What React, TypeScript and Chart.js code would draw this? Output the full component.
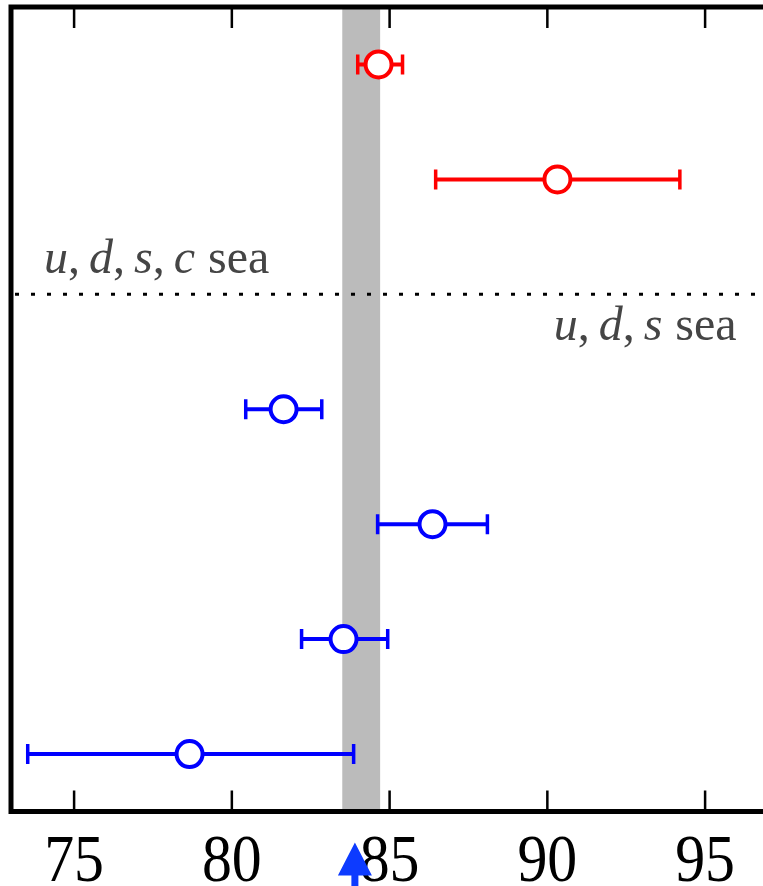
import { useEffect, useRef } from 'react';
import { Chart, registerables } from 'chart.js';

Chart.register(...registerables);

// Axis range and ticks
const X_MIN = 73;
const X_MAX = 97;
const X_TICKS = [75, 80, 85, 90, 95];
const Y_MIN = 0;
const Y_MAX = 7;

// Shaded reference band and marker
const BAND = [83.5, 84.7];
const ARROW_X = 83.9;
const DIVIDER_Y = 4.5;

// u,d,s,c sea results (red)
const RED_Y = [6.5, 5.5];
const RED_MID = [84.65, 90.32];
const RED_LO = [83.99, 86.46];
const RED_HI = [85.41, 94.2];

// u,d,s sea results (blue)
const BLUE_Y = [3.5, 2.5, 1.5, 0.5];
const BLUE_MID = [81.64, 86.36, 83.54, 78.66];
const BLUE_LO = [80.44, 84.62, 82.21, 73.53];
const BLUE_HI = [82.85, 88.1, 84.94, 83.86];

const RED = '#ff0000';
const BLUE = '#0000ff';
const ARROW_BLUE = '#0d3bff';
const LABEL_GREY = '#454545';
const SERIF = '"Liberation Serif"';

type Part = { t: string; it?: boolean; gap?: number };

const LABEL_TOP: Part[] = [
  { t: 'u', it: true }, { t: ',' }, { t: '', gap: 9 },
  { t: 'd', it: true }, { t: ',' }, { t: '', gap: 9 },
  { t: 's', it: true }, { t: ',' }, { t: '', gap: 9 },
  { t: 'c', it: true }, { t: '', gap: 13 },
  { t: 'sea' },
];
const LABEL_BOTTOM: Part[] = [
  { t: 'u', it: true }, { t: ',' }, { t: '', gap: 9 },
  { t: 'd', it: true }, { t: ',' }, { t: '', gap: 9 },
  { t: 's', it: true }, { t: '', gap: 13 },
  { t: 'sea' },
];

function pt(xs: number[], ys: number[], lo: number[], hi: number[]) {
  return xs.map((x, i) => ({ x, y: ys[i], lo: lo[i], hi: hi[i] }));
}

function drawParts(ctx: CanvasRenderingContext2D, parts: Part[], x: number, y: number, size: number, align: 'left' | 'right') {
  const fontFor = (p: Part) => `${p.it ? 'italic ' : ''}${size}px ${SERIF}`;
  const widths = parts.map((p) => {
    if (p.gap) return p.gap;
    ctx.font = fontFor(p);
    return ctx.measureText(p.t).width;
  });
  const total = widths.reduce((a, b) => a + b, 0);
  ctx.save();
  ctx.textBaseline = 'alphabetic';
  ctx.textAlign = 'left';
  ctx.fillStyle = LABEL_GREY;
  let cx = align === 'left' ? x : x - total;
  parts.forEach((p, i) => {
    if (!p.gap) {
      ctx.font = fontFor(p);
      ctx.fillText(p.t, cx, y);
    }
    cx += widths[i];
  });
  ctx.restore();
}

const decor = {
  id: 'decor',
  beforeDatasetsDraw(chart: any) {
    const { ctx, chartArea: a, scales } = chart;
    const xs = scales.x;
    const ys = scales.y;
    ctx.save();
    // shaded band
    const b0 = xs.getPixelForValue(BAND[0]);
    const b1 = xs.getPixelForValue(BAND[1]);
    ctx.fillStyle = '#bbbbbb';
    ctx.fillRect(b0, a.top, b1 - b0, a.bottom - a.top);
    // dotted divider
    const yd = ys.getPixelForValue(DIVIDER_Y);
    ctx.strokeStyle = '#000';
    ctx.lineWidth = 3;
    ctx.setLineDash([4, 12]);
    ctx.beginPath();
    ctx.moveTo(a.left + 4, yd);
    ctx.lineTo(a.right, yd);
    ctx.stroke();
    ctx.setLineDash([]);
    // error bars
    chart.data.datasets.forEach((ds: any) => {
      ctx.strokeStyle = ds.borderColor;
      ds.data.forEach((d: any) => {
        const y = ys.getPixelForValue(d.y);
        const l = xs.getPixelForValue(d.lo);
        const h = xs.getPixelForValue(d.hi);
        ctx.lineWidth = 4;
        ctx.beginPath();
        ctx.moveTo(l, y);
        ctx.lineTo(h, y);
        ctx.stroke();
        ctx.lineWidth = 3.5;
        ctx.beginPath();
        ctx.moveTo(l, y - 10);
        ctx.lineTo(l, y + 10);
        ctx.moveTo(h, y - 10);
        ctx.lineTo(h, y + 10);
        ctx.stroke();
      });
    });
    ctx.restore();
  },
  afterDraw(chart: any) {
    const { ctx, chartArea: a, scales } = chart;
    const xs = scales.x;
    const ys = scales.y;
    ctx.save();
    // frame
    ctx.strokeStyle = '#000';
    ctx.lineWidth = 5;
    ctx.strokeRect(a.left, a.top, a.right - a.left, a.bottom - a.top);
    // inward ticks, top and bottom
    ctx.lineWidth = 2.5;
    ctx.beginPath();
    X_TICKS.forEach((v) => {
      const x = xs.getPixelForValue(v);
      ctx.moveTo(x, a.top);
      ctx.lineTo(x, a.top + 21);
      ctx.moveTo(x, a.bottom);
      ctx.lineTo(x, a.bottom - 21);
    });
    ctx.stroke();
    // tick labels
    ctx.fillStyle = '#000';
    ctx.font = `68px ${SERIF}`;
    ctx.textAlign = 'center';
    ctx.textBaseline = 'alphabetic';
    X_TICKS.forEach((v) => {
      const x = xs.getPixelForValue(v);
      ctx.save();
      ctx.translate(x, a.bottom + 69);
      ctx.scale(0.88, 1);
      ctx.fillText(String(v), 0, 0);
      ctx.restore();
    });
    // region labels
    const yd = ys.getPixelForValue(DIVIDER_Y);
    drawParts(ctx, LABEL_TOP, a.left + 33, yd - 21, 48, 'left');
    drawParts(ctx, LABEL_BOTTOM, xs.getPixelForValue(96.0), yd + 46, 48, 'right');
    // arrow marker below the axis
    const ax = xs.getPixelForValue(ARROW_X);
    const tip = a.bottom + 31;
    ctx.fillStyle = ARROW_BLUE;
    ctx.beginPath();
    ctx.moveTo(ax, tip);
    ctx.lineTo(ax + 17, tip + 33);
    ctx.lineTo(ax + 3.5, tip + 33);
    ctx.lineTo(ax + 3.5, tip + 60);
    ctx.lineTo(ax - 3.5, tip + 60);
    ctx.lineTo(ax - 3.5, tip + 33);
    ctx.lineTo(ax - 17, tip + 33);
    ctx.closePath();
    ctx.fill();
    ctx.restore();
  },
};

export default function App() {
  const ref = useRef<HTMLCanvasElement>(null);
  useEffect(() => {
    const canvas = ref.current!;
    const mk = (color: string, data: any[]) => ({
      data,
      borderColor: color,
      backgroundColor: '#ffffff',
      pointRadius: 13,
      pointBorderWidth: 4,
      pointBackgroundColor: '#ffffff',
      pointBorderColor: color,
      showLine: false,
    });
    const chart = new Chart(canvas, {
      type: 'scatter',
      data: {
        datasets: [
          mk(RED, pt(RED_MID, RED_Y, RED_LO, RED_HI)),
          mk(BLUE, pt(BLUE_MID, BLUE_Y, BLUE_LO, BLUE_HI)),
        ],
      },
      options: {
        animation: false,
        responsive: false,
        devicePixelRatio: 1,
        events: [],
        layout: { autoPadding: false, padding: { left: 11, right: 21.8, top: 7, bottom: 74.5 } },
        plugins: { legend: { display: false }, tooltip: { enabled: false } },
        scales: {
          x: { type: 'linear', min: X_MIN, max: X_MAX, display: false },
          y: { type: 'linear', min: Y_MIN, max: Y_MAX, display: false },
        },
      },
      plugins: [decor],
    });
    return () => chart.destroy();
  }, []);
  return (
    <div style={{ position: 'absolute', left: 0, top: 0, width: 763, height: 886, overflow: 'hidden', background: '#fff' }}>
      <canvas ref={ref} width={790} height={886} style={{ display: 'block', width: 790, height: 886 }} />
    </div>
  );
}
